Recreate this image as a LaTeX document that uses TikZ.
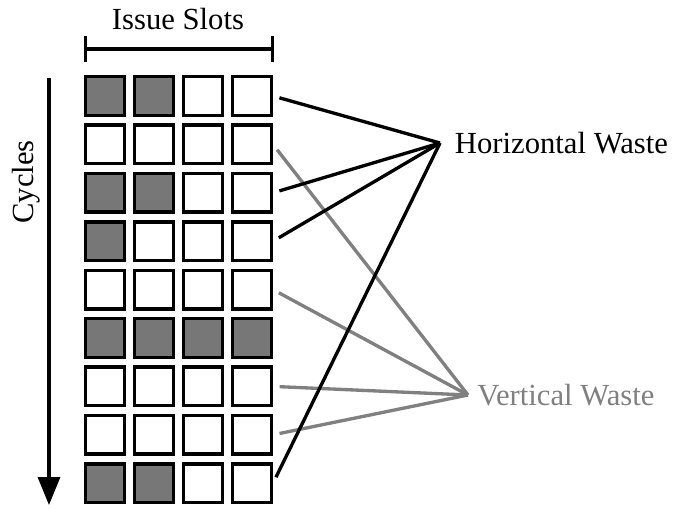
\documentclass[tikz,border=0pt]{standalone}
\usepackage{fontspec}
\setmainfont{Liberation Serif}
\usetikzlibrary{arrows.meta}

\definecolor{slotfill}{RGB}{119,119,119}
\definecolor{wastegray}{RGB}{128,128,128}

\begin{document}
\begin{tikzpicture}[x=0.75pt,y=0.75pt,yscale=-1,xscale=1,
  slot/.style={draw=black,line width=2.5pt,minimum size=29pt,inner sep=0pt},
  busy/.style={fill=slotfill},
  idle/.style={fill=white},
  label/.style={font=\fontsize{23}{27}\selectfont,inner sep=0pt},
  hwire/.style={draw=black,line width=2.5pt,shorten <=5pt},
  vwire/.style={draw=wastegray,line width=2.5pt,shorten <=5pt}]
\useasboundingbox (0,0) rectangle (675,508);

% issue slots: number of busy slots in each cycle
\foreach \n [count=\r] in {2,0,2,1,0,4,0,0,2}{
  \foreach \c in {1,...,4}{
    \ifnum\c>\n \def\kind{idle}\else\def\kind{busy}\fi
    \node[slot,\kind] (s-\r-\c) at ({105+(\c-1)*49},{96+(\r-1)*48.4}) {};
  }
}

% width bracket
\draw [line width=2.5pt,{Bar[width=19pt]}-{Bar[width=19pt]}] (84,49) -- (274,49);
\node[label] (slots) at (178,19) {Issue Slots};

% time axis
\draw [line width=2.5pt,-{Triangle[width=16.5pt,length=21pt]}] (49,78) -- (49,505);
\node[label,rotate=90] (cycles) at (26,182) {Cycles};

% waste labels
\node[label,anchor=west,inner xsep=11pt] (hw) at (440,143) {Horizontal Waste};
\node[label,anchor=west,inner xsep=6.75pt,text=wastegray] (vw) at (468,395) {Vertical Waste};

% empty cycles
\foreach \r in {2,5,7,8}
  \draw [vwire] (s-\r-4.east) -- (vw.west);

% partly used cycles
\foreach \r in {1,3,4,9}
  \draw [hwire] (s-\r-4.east) -- (hw.west);

\end{tikzpicture}
\end{document}
